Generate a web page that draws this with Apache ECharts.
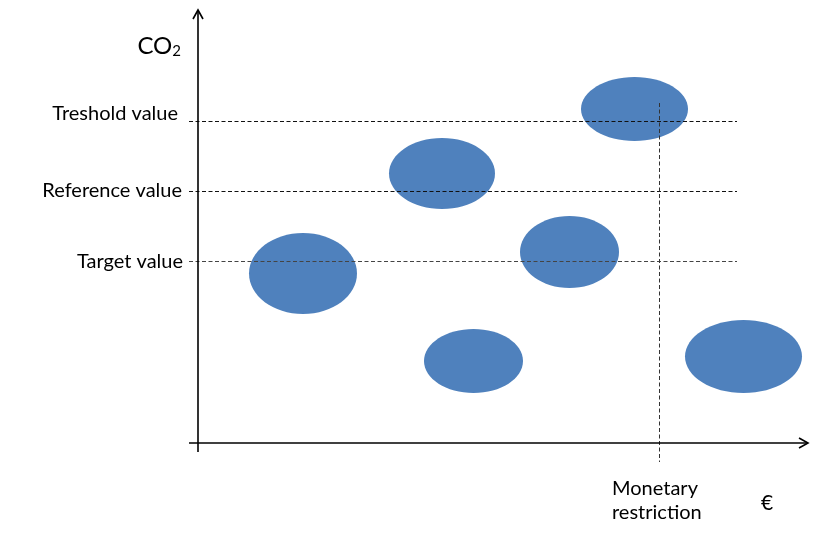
<!DOCTYPE html>
<html>
<head>
<meta charset="utf-8">
<script src="https://cdn.jsdelivr.net/npm/echarts@6/dist/echarts.min.js"></script>
<style>html,body{margin:0;padding:0;background:#fff}#c{width:840px;height:534px}</style>
</head>
<body>
<div id="c"></div>
<script>
// ---- data (units: arbitrary cost € on x, CO2 on y) ----
const clusterCenterX = [105, 244, 275.5, 371.5, 436.5, 545.5];
const clusterCenterY = [169.5, 269.5, 82, 191, 334, 86.5];
const clusterSpreadX = [54, 53, 49.5, 49.5, 53.5, 58.5];
const clusterSpreadY = [40.5, 35.5, 32, 36, 32, 36.5];
const thresholdLabels = ['Treshold value', 'Reference value', 'Target value'];
const thresholdValues = [322, 252, 182];
const monetaryLabel = 'Monetary\nrestriction';
const monetaryValue = 461;
const xAxisName = '€';
const yAxisName = 'CO';

// ---- styling constants ----
const FONT = 'Lato';
const BLUE = '#4F81BD';
const lineColors = ['#111', '#111', '#444'];
const labelDx = [-4, 0, 1];
const labelDy = [-7, 0, 1];

const clusterData = clusterCenterX.map((x, i) => [x, clusterCenterY[i], clusterSpreadX[i], clusterSpreadY[i]]);

const chart = echarts.init(document.getElementById('c'), null, {renderer: 'canvas'});
chart.setOption({
  animation: false,
  grid: {left: 188, right: 32, top: 10, bottom: 71},
  xAxis: {type: 'value', min: -10, max: 610, show: false},
  yAxis: {type: 'value', min: -20, max: 433, show: false},
  series: [
    {
      type: 'custom', name: 'clusters', z: 1,
      data: clusterData,
      renderItem: (params, api) => {
        const c = api.coord([api.value(0), api.value(1)]);
        const s = api.size([api.value(2), api.value(3)]);
        return {type: 'ellipse', shape: {cx: c[0], cy: c[1], rx: s[0], ry: s[1]}, style: {fill: BLUE}};
      }
    },
    {
      type: 'custom', name: 'thresholds', z: 3,
      data: thresholdValues.map(v => [v]),
      renderItem: (params, api) => {
        const i = params.dataIndex;
        const v = api.value(0);
        const a = api.coord([-9, v]);
        const b = api.coord([539, v]);
        const y = Math.round(a[1]) + 0.5;
        return {type: 'group', children: [
          {type: 'line', shape: {x1: a[0], y1: y, x2: b[0], y2: y},
           style: {stroke: lineColors[i], lineWidth: 1, lineDash: [4, 2.5]}},
          {type: 'text', x: a[0] - 7 + labelDx[i], y: a[1] + labelDy[i],
           style: {text: thresholdLabels[i], fill: '#000', font: '20px ' + FONT, align: 'right', verticalAlign: 'middle'}}
        ]};
      }
    },
    {
      type: 'custom', name: 'monetary', z: 3,
      data: [[monetaryValue]],
      renderItem: (params, api) => {
        const v = api.value(0);
        const a = api.coord([v, 340]);
        const b = api.coord([v, -19]);
        const x = Math.round(a[0]) + 0.5;
        return {type: 'group', children: [
          {type: 'line', shape: {x1: x, y1: a[1], x2: x, y2: b[1]},
           style: {stroke: '#333', lineWidth: 1, lineDash: [4, 2.5]}},
          {type: 'text', x: b[0] - 47, y: b[1] + 39,
           style: {text: monetaryLabel, fill: '#000', font: '20px ' + FONT, align: 'left', verticalAlign: 'middle', lineHeight: 24}}
        ]};
      }
    },
    {
      type: 'custom', name: 'axes', z: 4,
      data: [[0]],
      renderItem: (params, api) => {
        const o = api.coord([0, 0]);
        const xs = api.coord([-9, 0]);
        const xe = api.coord([610, 0]);
        const ys = api.coord([0, -9]);
        const ye = api.coord([0, 433]);
        const st = {stroke: '#000', lineWidth: 1.6, fill: null};
        return {type: 'group', children: [
          {type: 'line', shape: {x1: xs[0], y1: xs[1], x2: xe[0], y2: xe[1]}, style: st},
          {type: 'polyline', shape: {points: [[xe[0] - 9, xe[1] - 5], [xe[0], xe[1]], [xe[0] - 9, xe[1] + 5]]}, style: st},
          {type: 'line', shape: {x1: ys[0], y1: ys[1], x2: ye[0], y2: ye[1]}, style: st},
          {type: 'polyline', shape: {points: [[ye[0] - 5, ye[1] + 9], [ye[0], ye[1]], [ye[0] + 5, ye[1] + 9]]}, style: st},
          {type: 'text', x: ye[0] - 17, y: ye[1] + 36,
           style: {rich: {a: {font: '24px ' + FONT, fill: '#000'}, s: {font: '15px ' + FONT, fill: '#000', padding: [11, 0, 0, 0]}},
                   text: '{a|' + yAxisName + '}{s|2}', align: 'right', verticalAlign: 'middle'}},
          {type: 'text', x: xe[0] - 41, y: o[1] + 60,
           style: {text: xAxisName, font: '21px ' + FONT, fill: '#000', align: 'center', verticalAlign: 'middle'}}
        ]};
      }
    }
  ]
});
</script>
</body>
</html>
